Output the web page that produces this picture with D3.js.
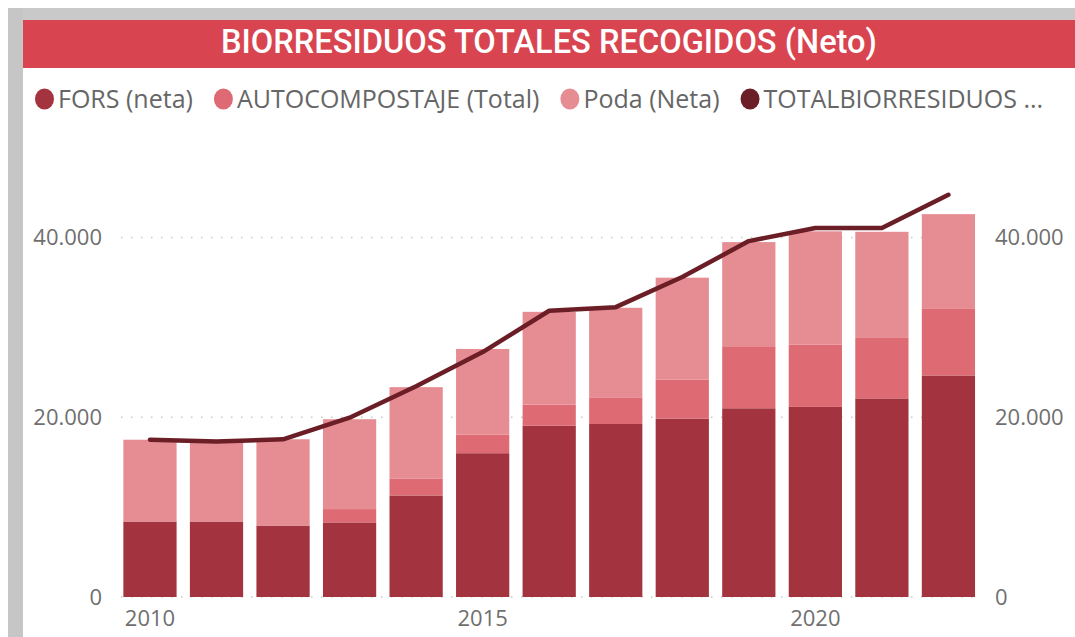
<!DOCTYPE html>
<html>
<head>
<meta charset="utf-8">
<title>Biorresiduos</title>
<script src="https://cdn.jsdelivr.net/npm/d3@7"></script>
<style>
  body, html { margin: 0; background: #fff; overflow: hidden; }
  .tick text { fill: #6f6f6f; font-family: "Open Sans", sans-serif; }
  .legend text { fill: #666; font-family: "Open Sans", sans-serif; }
  .grid line { stroke: #c8c8c8; stroke-width: 1.3; stroke-dasharray: 1.5 8.5; }
</style>
</head>
<body>
<div id="chart"></div>
<script>
// data
var years = [2010, 2011, 2012, 2013, 2014, 2015, 2016, 2017, 2018, 2019, 2020, 2021, 2022];
var fors = [8400, 8400, 7950, 8300, 11300, 16000, 19050, 19250, 19850, 21000, 21150, 22100, 24650];
var autocompostaje = [0, 0, 0, 1480, 1850, 2050, 2350, 2900, 4350, 6900, 6950, 6800, 7400];
var poda = [9100, 8850, 9600, 10000, 10200, 9550, 10330, 10030, 11330, 11590, 12590, 11735, 10550];
var totalBio = [17500, 17300, 17550, 19950, 23450, 27250, 31850, 32250, 35600, 39600, 41050, 41050, 44750];
var yTicks = [0, 20000, 40000];
var xTicks = [2010, 2015, 2020];

var seriesNames = ["FORS (neta)", "AUTOCOMPOSTAJE (Total)", "Poda (Neta)", "TOTALBIORRESIDUOS ..."];
var colors = ["#a3333e", "#de6a73", "#e68d94", "#6b1e25"];

var w = 1075, h = 637;

var svg = d3.select("#chart").append("svg")
  .attr("width", w)
  .attr("height", h);

// frame: gray edge top and left
svg.append("rect").attr("x", 8).attr("y", 8).attr("width", w - 8).attr("height", 12).attr("fill", "#c9c9c9");
svg.append("rect").attr("x", 8).attr("y", 8).attr("width", 15).attr("height", h - 8).attr("fill", "#c6c6c6");

// title bar
svg.append("rect").attr("x", 23).attr("y", 20).attr("width", w - 23).attr("height", 48).attr("fill", "#d8444f");
svg.append("text")
  .attr("x", 549).attr("y", 53)
  .attr("text-anchor", "middle")
  .attr("fill", "#fff")
  .attr("font-family", "Roboto, sans-serif")
  .attr("font-weight", 500)
  .attr("font-size", 34)
  .attr("textLength", 656)
  .attr("lengthAdjust", "spacingAndGlyphs")
  .text("BIORRESIDUOS TOTALES RECOGIDOS (Neto)");

// legend
var legend = svg.append("g").attr("class", "legend");
var lx = 35;
seriesNames.forEach(function (name, i) {
  var g = legend.append("g");
  g.append("ellipse")
    .attr("cx", lx + 9.5).attr("cy", 99)
    .attr("rx", 9.5).attr("ry", 10.5)
    .attr("fill", colors[i]);
  var t = g.append("text")
    .attr("x", lx + 23).attr("y", 108)
    .attr("font-size", 25)
    .text(name);
  lx = lx + 23 + t.node().getComputedTextLength() + 21;
});

// scales
var x = d3.scaleBand()
  .domain(years)
  .range([116.7, 981.7])
  .paddingInner(0.2)
  .paddingOuter(0.1);

var y = d3.scaleLinear()
  .domain([0, 40000])
  .range([597, 237.5]);

var locale = d3.formatLocale({ decimal: ",", thousands: ".", grouping: [3], currency: ["", "€"] });
var fmt = locale.format(",.0f");

// gridlines
svg.append("g").attr("class", "grid")
  .selectAll("line").data(yTicks)
  .enter().append("line")
  .attr("x1", 121).attr("x2", 979)
  .attr("y1", function (d) { return y(d); })
  .attr("y2", function (d) { return y(d); });

// stacked bars
var rows = years.map(function (yr, i) {
  return { year: yr, fors: fors[i], auto: autocompostaje[i], poda: poda[i] };
});
var stack = d3.stack().keys(["fors", "auto", "poda"]);
var layers = stack(rows);

svg.append("g").attr("class", "bars")
  .selectAll("g").data(layers)
  .enter().append("g")
  .attr("fill", function (d, i) { return colors[i]; })
  .selectAll("rect").data(function (d) { return d; })
  .enter().append("rect")
  .attr("x", function (d) { return x(d.data.year); })
  .attr("width", x.bandwidth())
  .attr("y", function (d) { return y(d[1]); })
  .attr("height", function (d) { return y(d[0]) - y(d[1]); });

// total line
var line = d3.line()
  .x(function (d, i) { return x(years[i]) + x.bandwidth() / 2; })
  .y(function (d) { return y(d); });

svg.append("path")
  .datum(totalBio)
  .attr("fill", "none")
  .attr("stroke", colors[3])
  .attr("stroke-width", 4.5)
  .attr("stroke-linejoin", "round")
  .attr("stroke-linecap", "round")
  .attr("d", line);

// axes
var yLeft = d3.axisLeft(y).tickValues(yTicks).tickFormat(fmt).tickSize(0).tickPadding(0);
var yRight = d3.axisRight(y).tickValues(yTicks).tickFormat(fmt).tickSize(0).tickPadding(0);
var xAxis = d3.axisBottom(x).tickValues(xTicks).tickSize(0).tickPadding(0);

var gl = svg.append("g").attr("transform", "translate(102,0)").call(yLeft);
var gr = svg.append("g").attr("transform", "translate(995,0)").call(yRight);
var gx = svg.append("g").attr("transform", "translate(0,610)").call(xAxis);

[gl, gr, gx].forEach(function (g) {
  g.select(".domain").remove();
  g.selectAll(".tick text").attr("font-size", 22);
});
gx.selectAll(".tick text").attr("dy", "0.71em");
</script>
</body>
</html>
